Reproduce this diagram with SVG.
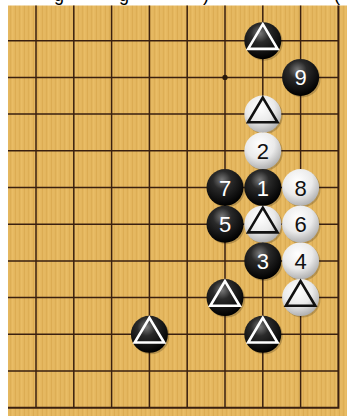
<svg xmlns="http://www.w3.org/2000/svg" width="347" height="416" viewBox="0 0 347 416">
<style>
.ln{stroke:#3a2010;stroke-width:1.5;fill:none}
.edge{stroke:#3a2010;stroke-width:2;fill:none}
.b{fill:url(#gb)}
.w{fill:url(#gw)}
.sh{fill:#000;opacity:0.2}
.nb{font-family:"Liberation Sans",Arial,sans-serif;font-size:22px;fill:#fff;text-anchor:middle}
.nw{font-family:"Liberation Sans",Arial,sans-serif;font-size:22px;fill:#111;text-anchor:middle}
.tb{fill:none;stroke:#fff;stroke-width:2.6;stroke-linejoin:miter}
.tw{fill:none;stroke:#111;stroke-width:2.6;stroke-linejoin:miter}
.top{font-family:"Liberation Sans",Arial,sans-serif;font-size:18px;fill:#000}
</style>
<defs>
<pattern id="wood" patternUnits="userSpaceOnUse" width="9" height="20">
<rect width="9" height="20" fill="#e4b65e"/>
<rect x="1" width="1" height="20" fill="#ddae55"/>
<rect x="3" width="1.5" height="20" fill="#e9bd66"/>
<rect x="6" width="1" height="20" fill="#dcac53"/>
<rect x="7.5" width="1" height="20" fill="#e7ba63"/>
</pattern>
<radialGradient id="gb" cx="0.42" cy="0.3" r="0.7">
<stop offset="0" stop-color="#7a7a7a"/>
<stop offset="0.35" stop-color="#2a2a2a"/>
<stop offset="1" stop-color="#000"/>
</radialGradient>
<radialGradient id="gw" cx="0.42" cy="0.32" r="0.72">
<stop offset="0" stop-color="#ffffff"/>
<stop offset="0.55" stop-color="#eaeaea"/>
<stop offset="1" stop-color="#a9a9a9"/>
</radialGradient>
</defs>
<rect width="347" height="416" fill="#fff"/>
<g id="caption">
<text class="top" x="54" y="0.5">g</text>
<text class="top" x="119" y="0.5">g</text>
<text class="top" x="203" y="0.5">)</text>
<text class="top" x="334" y="0.5">(</text>
</g>
<g id="board">
<rect x="8" y="5.5" width="339" height="410.5" fill="url(#wood)"/>
<g class="ln">
<path d="M36 5.5V407.7M73.8 5.5V407.7M111.6 5.5V407.7M149.4 5.5V407.7M187.2 5.5V407.7M225 5.5V407.7M262.8 5.5V407.7M300.6 5.5V407.7"/>
<path d="M8 40.7H338.4M8 77.4H338.4M8 114.1H338.4M8 150.8H338.4M8 187.5H338.4M8 224.2H338.4M8 260.9H338.4M8 297.6H338.4M8 334.3H338.4M8 371H338.4"/>
</g>
<path class="edge" d="M338.4 5.5V407.7H8"/>
<circle cx="225" cy="77.4" r="2.6" fill="#2a1a0a"/>
</g>
<g id="connectors"></g>
<g id="s-b-tri-1">
<circle class="sh" cx="264.3" cy="42.2" r="18.5"/><circle class="b" cx="262.8" cy="40.7" r="18.5"/>
<path class="tb" d="M262.8 24.2L277.5 48.9H248.1Z"/>
</g>
<g id="s-b-9">
<circle class="sh" cx="302.1" cy="78.9" r="18.5"/><circle class="b" cx="300.6" cy="77.4" r="18.5"/>
<text class="nb" x="300.6" y="85.4">9</text>
</g>
<g id="s-w-tri-1">
<circle class="sh" cx="264.3" cy="115.6" r="18.5"/><circle class="w" cx="262.8" cy="114.1" r="18.5"/>
<path class="tw" d="M262.8 97.6L277.5 122.3H248.1Z"/>
</g>
<g id="s-w-2">
<circle class="sh" cx="264.3" cy="152.3" r="18.5"/><circle class="w" cx="262.8" cy="150.8" r="18.5"/>
<text class="nw" x="262.8" y="158.8">2</text>
</g>
<g id="s-b-7">
<circle class="sh" cx="226.5" cy="189" r="18.5"/><circle class="b" cx="225" cy="187.5" r="18.5"/>
<text class="nb" x="225" y="195.5">7</text>
</g>
<g id="s-b-1">
<circle class="sh" cx="264.3" cy="189" r="18.5"/><circle class="b" cx="262.8" cy="187.5" r="18.5"/>
<text class="nb" x="262.8" y="195.5">1</text>
</g>
<g id="s-w-8">
<circle class="sh" cx="302.1" cy="189" r="18.5"/><circle class="w" cx="300.6" cy="187.5" r="18.5"/>
<text class="nw" x="300.6" y="195.5">8</text>
</g>
<g id="s-b-5">
<circle class="sh" cx="226.5" cy="225.7" r="18.5"/><circle class="b" cx="225" cy="224.2" r="18.5"/>
<text class="nb" x="225" y="232.2">5</text>
</g>
<g id="s-w-tri-2">
<circle class="sh" cx="264.3" cy="225.7" r="18.5"/><circle class="w" cx="262.8" cy="224.2" r="18.5"/>
<path class="tw" d="M262.8 207.7L277.5 232.4H248.1Z"/>
</g>
<g id="s-w-6">
<circle class="sh" cx="302.1" cy="225.7" r="18.5"/><circle class="w" cx="300.6" cy="224.2" r="18.5"/>
<text class="nw" x="300.6" y="232.2">6</text>
</g>
<g id="s-b-3">
<circle class="sh" cx="264.3" cy="262.4" r="18.5"/><circle class="b" cx="262.8" cy="260.9" r="18.5"/>
<text class="nb" x="262.8" y="268.9">3</text>
</g>
<g id="s-w-4">
<circle class="sh" cx="302.1" cy="262.4" r="18.5"/><circle class="w" cx="300.6" cy="260.9" r="18.5"/>
<text class="nw" x="300.6" y="268.9">4</text>
</g>
<g id="s-b-tri-2">
<circle class="sh" cx="226.5" cy="299.1" r="18.5"/><circle class="b" cx="225" cy="297.6" r="18.5"/>
<path class="tb" d="M225 281.1L239.7 305.8H210.3Z"/>
</g>
<g id="s-w-tri-3">
<circle class="sh" cx="302.1" cy="299.1" r="18.5"/><circle class="w" cx="300.6" cy="297.6" r="18.5"/>
<path class="tw" d="M300.6 281.1L315.3 305.8H285.9Z"/>
</g>
<g id="s-b-tri-3">
<circle class="sh" cx="150.9" cy="335.8" r="18.5"/><circle class="b" cx="149.4" cy="334.3" r="18.5"/>
<path class="tb" d="M149.4 317.8L164.1 342.5H134.7Z"/>
</g>
<g id="s-b-tri-4">
<circle class="sh" cx="264.3" cy="335.8" r="18.5"/><circle class="b" cx="262.8" cy="334.3" r="18.5"/>
<path class="tb" d="M262.8 317.8L277.5 342.5H248.1Z"/>
</g>
</svg>
